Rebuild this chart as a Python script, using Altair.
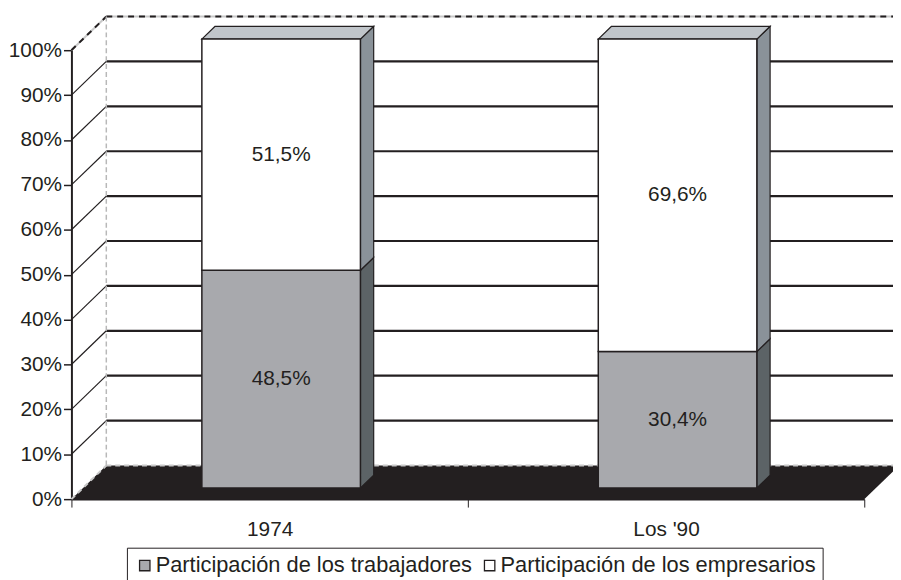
import altair as alt
import pandas as pd

# ---- data ----
categories = ["1974", "Los '90"]
trabajadores = [48.5, 30.4]
empresarios = [51.5, 69.6]
series_names = ["Participación de los trabajadores", "Participación de los empresarios"]
y_ticks = [0, 10, 20, 30, 40, 50, 60, 70, 80, 90, 100]

# ---- styling / 3D geometry (in data units) ----
FONT = "Liberation Sans"
INK = "#231f20"
FRONT = {series_names[0]: "#a8a9ad", series_names[1]: "#ffffff"}
SIDE = {series_names[0]: "#5c6366", series_names[1]: "#8a9299"}
TOP = "#c0c5ca"
DX = 0.088   # depth shift along x (category units)
DY = 7.5     # depth shift along y (percent units)
F1, F2 = 0.33, 0.71   # bar front / back depth fractions
HALF = 0.2   # half bar width (category units)
XMAX = len(categories)

centers = [i + 0.5 for i in range(len(categories))]

seg_rows, side_rows, top_rows, label_rows = [], [], [], []
for i, cat in enumerate(categories):
    c = centers[i]
    vals = [trabajadores[i], empresarios[i]]
    base = 0.0
    for s, v in zip(series_names, vals):
        y0, y1 = base, base + v
        seg_rows.append(dict(cat=cat, series=s,
                             x=c - HALF + F1 * DX, x2=c + HALF + F1 * DX,
                             y=y0 + F1 * DY, y2=y1 + F1 * DY))
        fid = f"{i}-{s}"
        for f in (F1, F2):
            side_rows.append(dict(face=fid, series=s, x=c + HALF + f * DX,
                                  y=y0 + f * DY, y2=y1 + f * DY))
        label_rows.append(dict(x=c + F1 * DX, y=(y0 + y1) / 2 + F1 * DY,
                               label=f"{v:.1f}".replace(".", ",") + "%"))
        base = y1
    for f in (F1, F2):
        top_rows.append(dict(face=str(i), y=base + f * DY,
                             x=c - HALF + f * DX, x2=c + HALF + f * DX))

segs = pd.DataFrame(seg_rows)
sides = pd.DataFrame(side_rows)
tops = pd.DataFrame(top_rows)
labels = pd.DataFrame(label_rows)

grid_back = pd.DataFrame([dict(x=DX, x2=XMAX + DX, y=v + DY) for v in y_ticks[1:-1]])
grid_diag = pd.DataFrame([dict(x=0, x2=DX, y=v, y2=v + DY) for v in y_ticks[1:-1]])
top_edge = pd.DataFrame([dict(x=DX, x2=XMAX + DX, y=100 + DY, y2=100 + DY),
                         dict(x=0, x2=DX, y=100, y2=100 + DY)])
left_edge = pd.DataFrame([dict(x=DX, x2=DX, y=DY, y2=100 + DY)])
floor = pd.DataFrame([dict(y=0, x=0, x2=XMAX), dict(y=DY, x=DX, x2=XMAX + DX)])
floor_edge = pd.DataFrame([dict(x=DX, x2=XMAX + DX, y=DY, y2=DY),
                           dict(x=0, x2=DX, y=0, y2=DY)])

xs = alt.Scale(domain=[0, XMAX], nice=False, zero=False)
ys = alt.Scale(domain=[0, 100], nice=False, zero=False)

def X(f="x"):
    return alt.X(f"{f}:Q", scale=xs, title=None)

def Y(f="y"):
    return alt.Y(f"{f}:Q", scale=ys, title=None)

parts = []
for c, n in zip(centers, categories):
    q = '"' + n + '"' if "'" in n else "'" + n + "'"
    parts.append(f"datum.value == {c} ? {q}")
cat_expr = " : ".join(parts) + " : ''"

x_tick_vals = [0] + sum([[c, i + 1] for i, c in enumerate(centers)], [])

axis_layer = alt.Chart(pd.DataFrame({"x": [0, XMAX], "y": [0, 100]})).mark_point(opacity=0).encode(
    x=alt.X("x:Q", scale=xs, title=None,
            axis=alt.Axis(values=x_tick_vals,
                          labelExpr=cat_expr, tickSize=8, tickColor=INK, tickWidth=1,
                          tickOpacity={"condition": {"test": "datum.value % 1 != 0", "value": 0}, "value": 1},
                          domainColor=INK, domainWidth=1.5, grid=False,
                          labelFont=FONT, labelFontSize=21, labelColor=INK, labelPadding=12)),
    y=alt.Y("y:Q", scale=ys, title=None,
            axis=alt.Axis(values=y_ticks, labelExpr="datum.value + '%'", tickSize=8,
                          tickColor=INK, tickWidth=1.5, domainColor=INK, domainWidth=2,
                          grid=False, labelFont=FONT, labelFontSize=21, labelColor=INK,
                          labelPadding=2)),
)

back_lines = alt.Chart(grid_back).mark_rule(color=INK, strokeWidth=2.2).encode(
    x=X(), x2="x2:Q", y=Y())
diag_lines = alt.Chart(grid_diag).mark_rule(color=INK, strokeWidth=1.2).encode(
    x=X(), x2="x2:Q", y=Y(), y2="y2:Q")
top_base = alt.Chart(top_edge).mark_rule(color="#c9c9c9", strokeWidth=2).encode(
    x=X(), x2="x2:Q", y=Y(), y2="y2:Q")
top_dash = alt.Chart(top_edge).mark_rule(color=INK, strokeWidth=2, strokeDash=[6, 5]).encode(
    x=X(), x2="x2:Q", y=Y(), y2="y2:Q")
left_dash = alt.Chart(left_edge).mark_rule(color="#b8b8b8", strokeWidth=1.5, strokeDash=[5, 3]).encode(
    x=X(), x2="x2:Q", y=Y(), y2="y2:Q")
floor_area = alt.Chart(floor).mark_area(orient="horizontal", color=INK).encode(
    y=Y(), x=X(), x2="x2:Q")
floor_dash = alt.Chart(floor_edge).mark_rule(color="#c8c8c8", strokeWidth=2, strokeDash=[5, 4]).encode(
    x=X(), x2="x2:Q", y=Y(), y2="y2:Q")

side_faces = alt.Chart(sides).mark_area(orient="vertical", stroke=INK, strokeWidth=1.2).encode(
    x=X(), y=Y(), y2="y2:Q", detail="face:N",
    fill=alt.Fill("series:N", scale=alt.Scale(domain=series_names,
                                               range=[SIDE[s] for s in series_names]), legend=None))
top_faces = alt.Chart(tops).mark_area(orient="horizontal", color=TOP, stroke=INK, strokeWidth=1.2).encode(
    y=Y(), x=X(), x2="x2:Q", detail="face:N")
front_faces = alt.Chart(segs).mark_rect(stroke=INK, strokeWidth=1.5).encode(
    x=X(), x2="x2:Q", y=Y(), y2="y2:Q",
    fill=alt.Fill("series:N", sort=series_names,
                  scale=alt.Scale(domain=series_names, range=[FRONT[s] for s in series_names]),
                  legend=alt.Legend(title=None, orient="none", direction="horizontal",
                                    legendX=56, legendY=502, strokeColor=INK, fillColor="white",
                                    padding=7, symbolType="square", symbolSize=110,
                                    symbolStrokeColor=INK, symbolStrokeWidth=1.3,
                                    labelFont=FONT, labelFontSize=22, labelColor=INK,
                                    labelLimit=0, labelOffset=0, columnPadding=6)))
text_layer = alt.Chart(labels).mark_text(font=FONT, fontSize=21, color=INK, baseline="middle").encode(
    x=X(), y=Y(), text="label:N")

chart = alt.layer(
    axis_layer, back_lines, diag_lines, top_base, top_dash, left_dash,
    floor_area, floor_dash, side_faces, top_faces, front_faces, text_layer
).resolve_scale(fill="independent").properties(
    width=800, height=453,
    autosize=alt.AutoSizeParams(type="none"),
    padding={"left": 64, "top": 40, "right": 29, "bottom": 79},
).configure_view(strokeWidth=0)

chart.save("out.html", embed_options={"renderer": "svg", "actions": False})
